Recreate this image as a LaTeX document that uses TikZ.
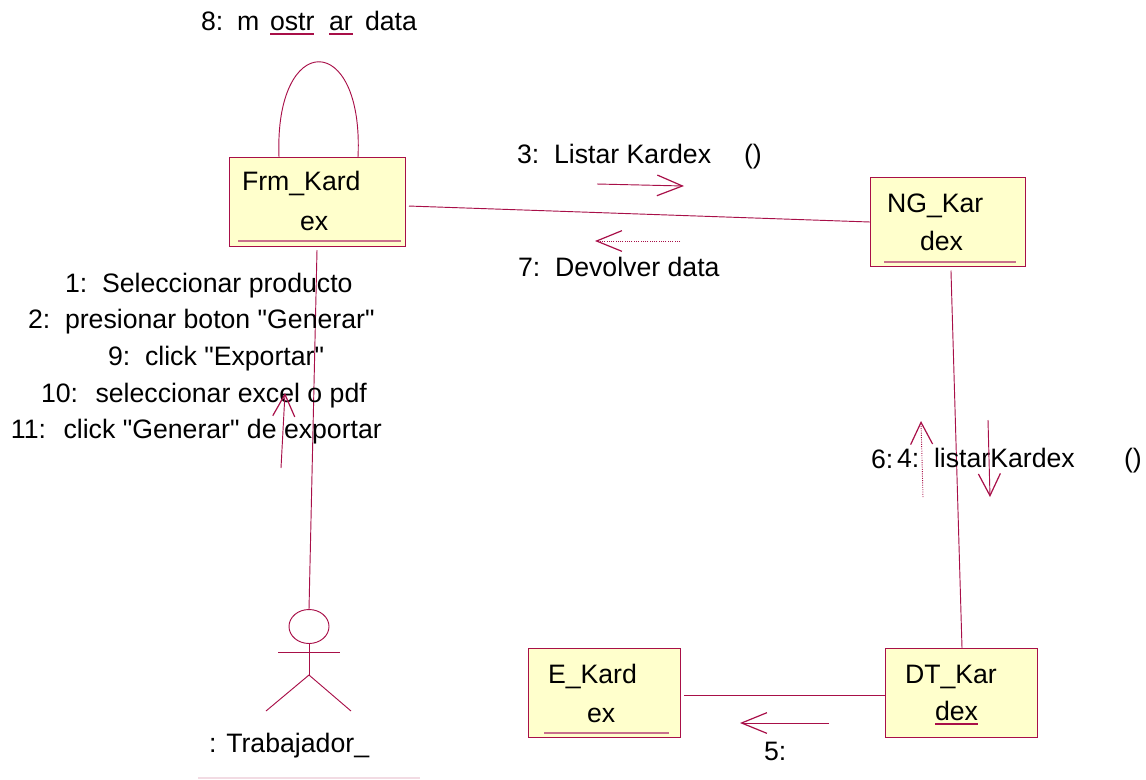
\documentclass[tikz,border=0pt]{standalone}
\usepackage{fontspec}
\setmainfont{Liberation Sans}
\usepackage{tikz}
\usetikzlibrary{shapes.geometric,arrows.meta,positioning}
\definecolor{umlred}{HTML}{A80F48}
\definecolor{umlpale}{HTML}{C8708C}
\definecolor{umlfill}{HTML}{FFFFCC}
\begin{document}
\begin{tikzpicture}[
  x=0.75pt,y=-0.75pt,
  classbox/.style={draw=umlred,fill=umlfill,line width=0.6pt,inner sep=0pt,outer sep=0pt,minimum height=66.75pt},
  txt/.style={anchor=base west,inner sep=0pt,outer sep=0pt,font=\fontsize{20}{20}\selectfont},
  link/.style={draw=umlred,line width=0.7pt},
  under/.style={draw=umlpale,line width=1pt},
  msg/.style={draw=umlred,line width=0.7pt,-{Straight Barb[length=19pt,width=15.5pt,line width=0.9pt]}},
  msgup/.style={draw=umlred,line width=0.7pt,-{Straight Barb[length=16.5pt,width=16.5pt,line width=0.9pt]}},
  retmsg/.style={densely dotted},
]
\useasboundingbox (0,0) rectangle (1146,779);
\node[classbox,minimum width=132pt] (frm) at (317,201.5) {};
\node[classbox,minimum width=116.25pt] (ng) at (947.5,222) {};
\node[classbox,minimum width=114pt] (ekard) at (604,692.5) {};
\node[classbox,minimum width=114pt] (dt) at (961,692.5) {};
\node[txt] (frm-a) at (242,190) {Frm\_Kard};
\node[txt] (frm-b) at (300,230) {ex};
\node[txt] (ng-a) at (887,212) {NG\_Kar};
\node[txt] (ng-b) at (920,250) {dex};
\node[txt] (ekard-a) at (548,683) {E\_Kard};
\node[txt] (ekard-b) at (587,722) {ex};
\node[txt] (dt-a) at (905,683) {DT\_Kar};
\node[txt] (dt-b) at (935,720) {dex};
\coordinate (frm-l) at (238,241);
\coordinate (frm-r) at (401,241);
\coordinate (ng-l) at (884,262);
\coordinate (ng-r) at (1016,262);
\coordinate (ekard-l) at (544,733);
\coordinate (ekard-r) at (669,733);
\draw[under] (frm-l) -- (frm-r);
\draw[under] (ng-l) -- (ng-r);
\draw[under] (ekard-l) -- (ekard-r);
\draw[draw=umlred,line width=1pt] ([yshift=-3pt]dt-b.base west) -- ([yshift=-3pt]dt-b.base east);
\node[draw=umlred,line width=0.7pt,ellipse,inner sep=0pt,outer sep=0pt,minimum width=30pt,minimum height=25.5pt] (head) at (309,626.5) {};
\coordinate (arm-l) at (278,652);
\coordinate (arm-r) at (340,652);
\coordinate (hip) at (309,675);
\coordinate (leg-l) at (266,711);
\coordinate (leg-r) at (351,711);
\draw[link] (head.south) -- (hip);
\draw[link] (arm-l) -- (arm-r);
\draw[link] (leg-l) -- (hip) -- (leg-r);
\node[txt] (actor) at (209,752) {: Trabajador\_};
\coordinate (pale-l) at (198,778);
\coordinate (pale-r) at (420,778);
\draw[umlred!15,line width=0.8pt] (pale-l) -- (pale-r);
\draw[link] ([xshift=-28.5pt]frm.north) .. controls (274,30) and (364,30) .. ([xshift=30.75pt]frm.north);
\draw[link] ([xshift=3pt,yshift=-3.4pt]frm.east) -- (ng.west);
\draw[link] ([yshift=-3pt]frm.south) -- (head.north);
\draw[link] ([xshift=2.6pt,yshift=-3pt]ng.south) -- ([xshift=0.75pt]dt.north);
\draw[link] ([xshift=3pt,yshift=-1.9pt]ekard.east) -- ([yshift=-1.9pt]dt.west);
\node[txt] (m8a) at (201,30) {8:};
\node[txt] (m8b) at (237,30) {m};
\node[txt] (m8c) at (270,30) {ostr};
\node[txt] (m8d) at (329,30) {ar};
\node[txt] (m8e) at (365,30) {data};
\draw[draw=umlred,line width=1pt] ([yshift=-3pt]m8c.base west) -- ([yshift=-3pt]m8c.base east);
\draw[draw=umlred,line width=1pt] ([yshift=-3pt]m8d.base west) -- ([yshift=-3pt]m8d.base east);
\node[txt] (m3) at (517,163) {3:\ \ Listar Kardex};
\node[txt] (m3p) at (744,163) {()};
\node[txt] (m7) at (518,276) {7:\ \ Devolver data};
\node[txt] (m1) at (65,292) {1:\ \ Seleccionar producto};
\node[txt] (m2) at (28,328.5) {2:\ \ presionar boton \textquotedbl Generar\textquotedbl};
\node[txt] (m9) at (108,365) {9:\ \ click \textquotedbl Exportar\textquotedbl};
\node[txt] (m10) at (41,402) {10:\ \ \hspace{2pt}seleccionar excel o pdf};
\node[txt] (m11) at (11,438) {11:\ \ \hspace{2pt}click \textquotedbl Generar\textquotedbl{} de exportar};
\node[txt] (m6) at (871,468) {6:};
\node[txt] (m4) at (897,467) {4:\ \ listarKardex};
\node[txt] (m4p) at (1124,467) {()};
\node[txt] (m5) at (764,760) {5:};
\coordinate (a3s) at (597,184);
\coordinate (a3e) at (684,186);
\coordinate (a7s) at (680,241);
\coordinate (a7e) at (595,241);
\coordinate (a1s) at (281,468);
\coordinate (a1e) at (285,393);
\coordinate (a6s) at (923,497);
\coordinate (a6e) at (921,421);
\coordinate (a4s) at (988,420);
\coordinate (a4e) at (990,497);
\coordinate (a5s) at (829,723);
\coordinate (a5e) at (740,723);
\draw[msg] (a3s) -- (a3e);
\draw[msg,retmsg] (a7s) -- (a7e);
\draw[msgup] (a1s) -- (a1e);
\draw[msgup,retmsg] (a6s) -- (a6e);
\draw[msgup] (a4s) -- (a4e);
\draw[msg] (a5s) -- (a5e);
\end{tikzpicture}
\end{document}
